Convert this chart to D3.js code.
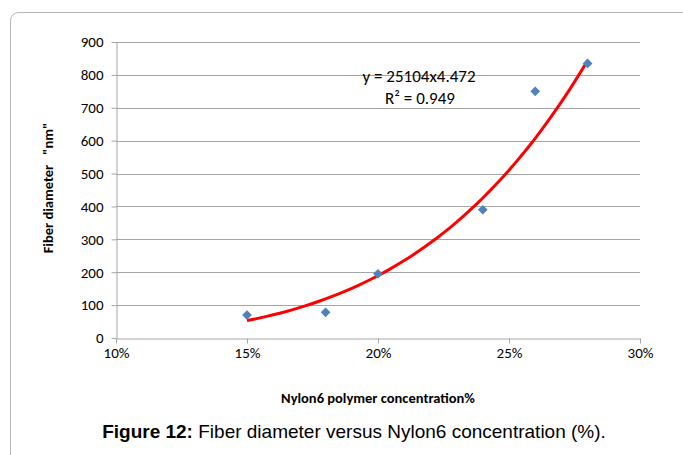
<!DOCTYPE html>
<html>
<head>
<meta charset="utf-8">
<script src="https://cdn.jsdelivr.net/npm/d3@7"></script>
<style>
  body { margin: 0; background: #fff; }
  svg { display: block; }
  .tick text { font-family: Carlito, "Open Sans", sans-serif; font-size: 15px; fill: #000; }
</style>
</head>
<body>
<div id="chart"></div>
<script>
// concentrations (fraction) and measured fibre diameters (nm)
var concentration = [0.15, 0.18, 0.20, 0.24, 0.26, 0.28];
var diameter = [70, 78, 195, 390, 750, 835];
var xTicks = [0.10, 0.15, 0.20, 0.25, 0.30];
var yTicks = [0, 100, 200, 300, 400, 500, 600, 700, 800, 900];

var svgWidth = 683;
var svgHeight = 455;

var svg = d3.select("#chart")
  .append("svg")
  .attr("width", svgWidth)
  .attr("height", svgHeight);

// outer frame
svg.append("rect")
  .attr("x", 10.5)
  .attr("y", 12.5)
  .attr("width", 690)
  .attr("height", 460)
  .attr("rx", 8)
  .attr("fill", "none")
  .attr("stroke", "#b4b4b4");

var xScale = d3.scaleLinear().domain([0.10, 0.30]).range([116, 640]);
var yScale = d3.scaleLinear().domain([0, 900]).range([338, 42]);

// gridlines
svg.append("g")
  .selectAll("line")
  .data(yTicks.slice(1))
  .enter()
  .append("line")
  .attr("x1", xScale(0.10))
  .attr("x2", xScale(0.30))
  .attr("y1", d => Math.round(yScale(d)) + 0.5)
  .attr("y2", d => Math.round(yScale(d)) + 0.5)
  .attr("stroke", "#a6a6a6");

// axes
var xAxis = svg.append("g")
  .attr("transform", `translate(0, ${Math.round(yScale(0)) + 0.5})`)
  .call(d3.axisBottom(xScale).tickValues(xTicks).tickFormat(d3.format(".0%")).tickSizeInner(5).tickSizeOuter(0).tickPadding(4));

var yAxis = svg.append("g")
  .attr("transform", `translate(${Math.round(xScale(0.10)) + 0.5}, 0)`)
  .call(d3.axisLeft(yScale).tickValues(yTicks).tickSizeInner(5).tickSizeOuter(0).tickPadding(8));

svg.selectAll(".domain, .tick line").attr("stroke", "#a6a6a6");

// power trendline, least squares fit in log-log space
var lx = concentration.map(Math.log);
var ly = diameter.map(Math.log);
var mx = d3.mean(lx), my = d3.mean(ly);
var b = d3.sum(lx, (v, i) => (v - mx) * (ly[i] - my)) / d3.sum(lx, v => (v - mx) * (v - mx));
var a = Math.exp(my - b * mx);
var trendX = d3.range(0.15, 0.28001, 0.0025);

svg.append("path")
  .datum(trendX)
  .attr("fill", "none")
  .attr("stroke", "#ff0000")
  .attr("stroke-width", 3)
  .attr("d", d3.line().x(d => xScale(d)).y(d => yScale(a * Math.pow(d, b))));

// points
svg.append("g")
  .selectAll("path")
  .data(concentration)
  .enter()
  .append("path")
  .attr("transform", (d, i) => `translate(${xScale(d)}, ${yScale(diameter[i])})`)
  .attr("d", d3.symbol().type(d3.symbolDiamond2).size(60))
  .attr("fill", "#4f81bd");

// equation labels
var eq = svg.append("g")
  .attr("font-family", "Carlito, 'Open Sans', sans-serif")
  .attr("font-size", 17)
  .attr("text-anchor", "middle");
eq.append("text").attr("x", 419).attr("y", 82).text("y = 25104x4.472");
eq.append("text").attr("x", 420).attr("y", 104).text("R² = 0.949");

// axis titles
svg.append("text")
  .attr("transform", "translate(53, 188) rotate(-90)")
  .attr("text-anchor", "middle")
  .attr("font-family", "Carlito, 'Open Sans', sans-serif")
  .attr("font-size", 14.5)
  .attr("font-weight", "bold")
  .attr("xml:space", "preserve")
  .text("Fiber diameter   \"nm\"");

svg.append("text")
  .attr("x", 378)
  .attr("y", 403)
  .attr("text-anchor", "middle")
  .attr("font-family", "Carlito, 'Open Sans', sans-serif")
  .attr("font-size", 14.5)
  .attr("font-weight", "bold")
  .text("Nylon6 polymer concentration%");

// caption
var cap = svg.append("text")
  .attr("x", 354)
  .attr("y", 438)
  .attr("text-anchor", "middle")
  .attr("font-family", "'Liberation Sans', Arial, sans-serif")
  .attr("font-size", 19);
cap.append("tspan").attr("font-weight", "bold").text("Figure 12:");
cap.append("tspan").text(" Fiber diameter versus Nylon6 concentration (%).");
</script>
</body>
</html>
